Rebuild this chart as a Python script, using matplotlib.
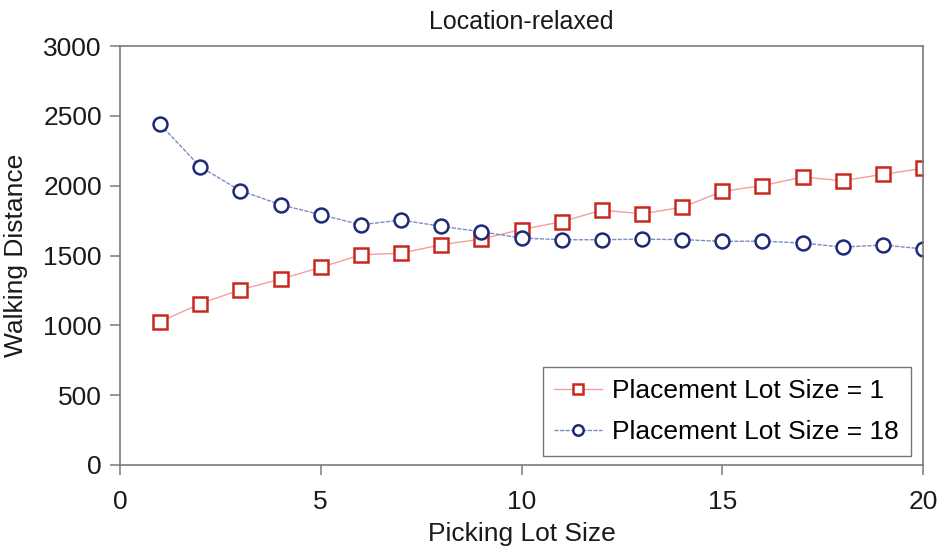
import matplotlib
matplotlib.use("Agg")
import matplotlib.pyplot as plt

# 数据
picking_lot = list(range(1, 21))
placement_1 = [1026, 1155, 1255, 1331, 1415, 1505, 1517, 1577, 1618, 1686,
               1742, 1825, 1799, 1845, 1959, 2001, 2061, 2036, 2081, 2124]
placement_18 = [2439, 2135, 1964, 1864, 1792, 1720, 1754, 1709, 1670, 1625,
                1613, 1613, 1617, 1614, 1601, 1603, 1589, 1560, 1575, 1547]

plt.rcParams['font.family'] = ['Liberation Sans', 'DejaVu Sans']

fig = plt.figure(figsize=(9.41, 5.48), dpi=100)
ax = fig.add_axes([0.1275, 0.1515, 0.8535, 0.7645])

ax.plot(picking_lot, placement_1, color='#f2a0a0', lw=1.0,
        marker='s', markersize=10, markerfacecolor='white',
        markeredgecolor='#c8281e', markeredgewidth=1.8,
        label='Placement Lot Size = 1')
ax.plot(picking_lot, placement_18, color='#7f8cc4', lw=1.0, linestyle=(0, (3, 1)),
        marker='o', markersize=10, markerfacecolor='white',
        markeredgecolor='#1c2a78', markeredgewidth=1.8,
        label='Placement Lot Size = 18')

ax.set_xlim(0, 20)
ax.set_ylim(0, 3000)
ax.set_xticks([0, 5, 10, 15, 20])
ax.set_yticks([0, 500, 1000, 1500, 2000, 2500, 3000])

for s in ax.spines.values():
    s.set_color('#7a7a7a')
    s.set_linewidth(1.2)
ax.tick_params(direction='out', length=7, width=1.1, color='#7a7a7a',
               labelsize=19, labelcolor='#1a1a1a')
ax.tick_params(axis='x', pad=11)
ax.tick_params(axis='y', pad=6)

ax.set_title('Location-relaxed', fontsize=18, pad=12, color='#1a1a1a')
ax.set_xlabel('Picking Lot Size', fontsize=19, labelpad=6, color='#1a1a1a')
ax.set_ylabel('Walking Distance', fontsize=19, labelpad=11, color='#1a1a1a')

leg = ax.legend(loc='lower right', bbox_to_anchor=(0.985, 0.021), borderaxespad=0,
                fontsize=19, frameon=True, fancybox=False, shadow=False,
                handlelength=1.8, handletextpad=0.4, labelspacing=0.65,
                borderpad=0.45, markerscale=0.75)
leg.get_frame().set_edgecolor('#555555')
leg.get_frame().set_linewidth(1.0)

fig.savefig('out.png', dpi=100)
